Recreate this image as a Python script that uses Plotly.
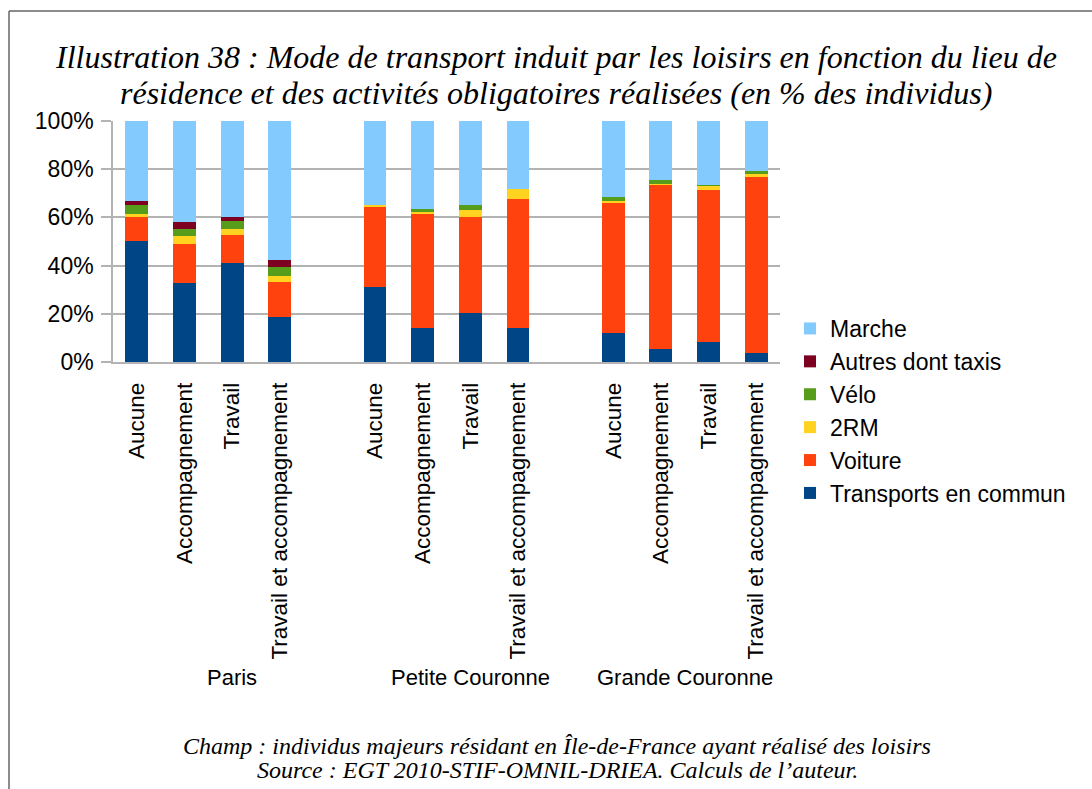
import plotly.graph_objects as go

# Lieux de résidence et activités obligatoires réalisées
groups = ["Paris", "Petite Couronne", "Grande Couronne"]
activites = ["Aucune", "Accompagnement", "Travail", "Travail et accompagnement"]

# Parts modales (en % des individus), ordre : Paris x4, Petite Couronne x4, Grande Couronne x4
transports_en_commun = [50.4, 32.7, 40.9, 18.6, 31.2, 14.1, 20.2, 14.1, 12.0, 5.2, 8.1, 3.7]
voiture = [9.7, 16.3, 11.9, 14.8, 33.4, 47.5, 39.9, 53.4, 54.2, 68.3, 63.2, 73.4]
deux_rm = [1.5, 3.1, 2.2, 2.2, 0.6, 0.7, 3.0, 4.3, 0.7, 0.3, 1.8, 0.8]
velo = [3.6, 3.0, 3.6, 3.8, 0.1, 1.0, 2.1, 0.0, 1.5, 1.9, 0.5, 1.4]
autres = [1.8, 2.8, 1.5, 2.9, 0.0, 0.0, 0.0, 0.0, 0.0, 0.0, 0.0, 0.0]
marche = [33.0, 42.1, 39.9, 57.7, 34.7, 36.7, 34.8, 28.2, 31.6, 24.3, 26.4, 20.7]

y_ticks = [0, 20, 40, 60, 80, 100]

title_lines = [
    "Illustration 38 : Mode de transport induit par les loisirs en fonction du lieu de",
    "résidence et des activités obligatoires réalisées (en % des individus)",
]
footer_lines = [
    "Champ : individus majeurs résidant en Île-de-France ayant réalisé des loisirs",
    "Source : EGT 2010-STIF-OMNIL-DRIEA. Calculs de l’auteur.",
]

series = [
    ("Transports en commun", transports_en_commun, "#004586"),
    ("Voiture", voiture, "#ff420e"),
    ("2RM", deux_rm, "#ffd320"),
    ("Vélo", velo, "#579d1c"),
    ("Autres dont taxis", autres, "#7e0021"),
    ("Marche", marche, "#83caff"),
]

# Each group takes one slot per activity plus an empty slot after it
slot_per_group = len(activites) + 1
xpos = [g * slot_per_group + i for g in range(len(groups)) for i in range(len(activites))]
ticktext = [a for _ in groups for a in activites]

W, H = 1092, 789
L, R, T, B = 113, 780, 121, 362  # plot area in pixels

fig = go.Figure()
for name, vals, color in series:
    fig.add_trace(go.Bar(
        x=xpos, y=vals, name=name, width=0.48,
        marker=dict(color=color, line=dict(width=0)),
    ))

sans = "Liberation Sans"
serif = "Liberation Serif"
grid = "#b3b3b3"


def px_x(px):
    return (px - L) / (R - L)


def px_y(py):
    return (B - py) / (B - T)


annotations = []
for line, cy in zip(title_lines, [57, 93]):
    annotations.append(dict(
        text=line, xref="paper", yref="paper", x=px_x(556), y=px_y(cy),
        xanchor="center", yanchor="middle", showarrow=False,
        font=dict(family=serif, size=32, style="italic", color="#000000")))
for line, cy in zip(footer_lines, [746, 770]):
    annotations.append(dict(
        text=line, xref="paper", yref="paper", x=px_x(557), y=px_y(cy),
        xanchor="center", yanchor="middle", showarrow=False,
        font=dict(family=serif, size=24, style="italic", color="#000000")))

# Group labels centred on the slots of each group (empty slot included)
n_slots = slot_per_group * len(groups) - 1
for g, name in enumerate(groups):
    first = g * slot_per_group
    last = min(first + slot_per_group - 1, n_slots - 1)
    annotations.append(dict(
        text=name, xref="x", yref="paper", x=(first + last) / 2, y=px_y(677),
        xanchor="center", yanchor="middle", showarrow=False,
        font=dict(family=sans, size=22, color="#000000")))

shapes = [
    dict(type="line", xref="paper", yref="paper", x0=px_x(9), y0=px_y(11), x1=px_x(W + 5), y1=px_y(11),
         line=dict(color="#666666", width=1.5)),
    dict(type="line", xref="paper", yref="paper", x0=px_x(9), y0=px_y(11), x1=px_x(9), y1=px_y(H + 5),
         line=dict(color="#666666", width=1.5)),
]

fig.update_layout(
    width=W, height=H,
    margin=dict(l=L, r=W - R, t=T, b=H - B, pad=0),
    paper_bgcolor="white", plot_bgcolor="white",
    barmode="stack", bargap=0,
    font=dict(family=sans, size=22, color="#000000"),
    showlegend=True,
    legend=dict(
        traceorder="reversed", x=px_x(790), y=px_y(307), xanchor="left", yanchor="top",
        font=dict(family=sans, size=23, color="#000000"), itemwidth=30,
        tracegroupgap=0, bgcolor="rgba(0,0,0,0)",
    ),
    annotations=annotations,
    shapes=shapes,
    xaxis=dict(
        range=[-0.5, n_slots - 0.5], tickmode="array", tickvals=xpos, ticktext=ticktext,
        tickangle=-90, showgrid=False, zeroline=False, showline=True, linecolor=grid, linewidth=1.5,
        ticks="", ticklabelstandoff=10, tickfont=dict(family=sans, size=22.5),
    ),
    yaxis=dict(
        range=[0, 100], tickmode="array", tickvals=y_ticks,
        ticktext=[f"{v}%" for v in y_ticks],
        showgrid=True, gridcolor=grid, gridwidth=1.5, zeroline=False,
        showline=True, linecolor=grid, linewidth=1.5, ticks="outside", ticklen=10,
        tickcolor=grid, tickwidth=1.5, ticklabelstandoff=3, tickfont=dict(family=sans, size=23),
    ),
)

fig.write_html("out.html")
